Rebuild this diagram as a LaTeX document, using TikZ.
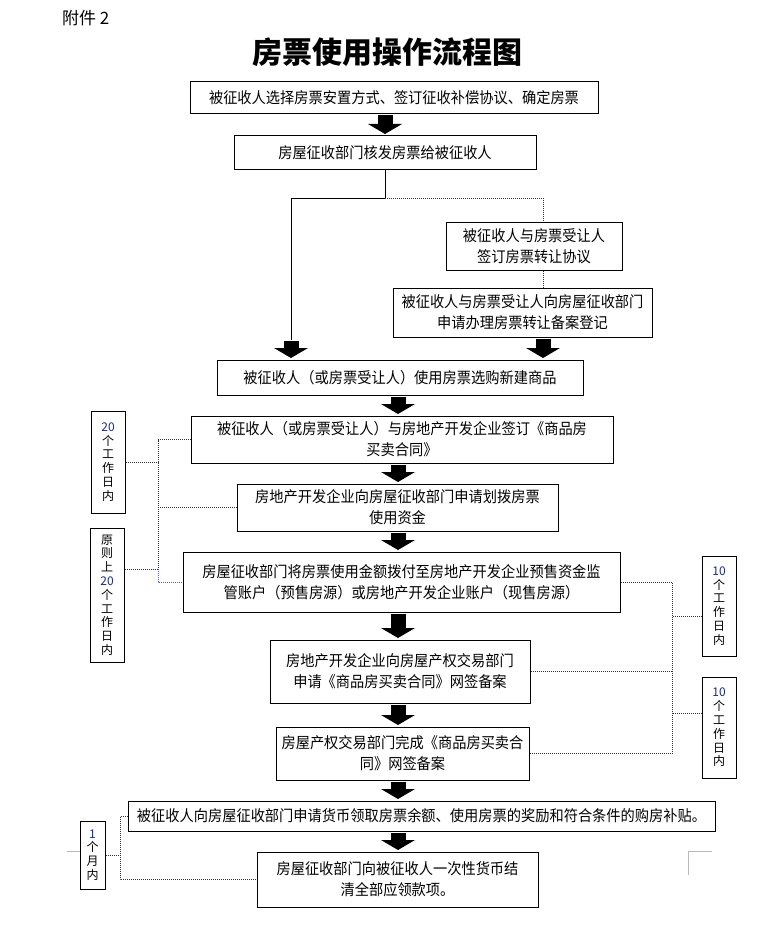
\documentclass[tikz,border=0pt]{standalone}
\usepackage{fontspec}
\setmainfont{Noto Sans CJK SC}
\newfontfamily\boxfont{Noto Sans CJK SC}[FakeStretch=0.93]
\usetikzlibrary{arrows.meta,calc}
\definecolor{numblue}{RGB}{25,45,130}
\definecolor{dotblue}{RGB}{70,100,200}
\begin{document}
\begin{tikzpicture}[x=1pt,y=-1pt,
  box/.style={draw,line width=1pt,inner sep=0pt,align=center,font=\boxfont\fontsize{15.3}{21}\selectfont},
  tag/.style={draw,line width=1pt,inner sep=0pt,align=center,font=\fontsize{12}{13.8}\selectfont},
  fat/.style={line width=15pt,-{Triangle[length=10pt,width=34pt,line width=0pt]},shorten <=1pt,shorten >=1.5pt},
  dot/.style={line width=1pt,dash pattern=on 1pt off 1pt,black!80},
  conn/.style={line width=1pt}]
\useasboundingbox (0,0) rectangle (768,928);

% titles
\node[anchor=west,inner sep=0pt,font=\fontsize{17}{17}\selectfont] (att) at (62,18) {附件 2};
\node[inner sep=0pt,font=\fontsize{30}{30}\selectfont\bfseries] (ttl) at (387,52) {房票使用操作流程图};

% main boxes
\node[box,minimum width=408pt,minimum height=32pt] (b1) at (394,98) {被征收人选择房票安置方式、签订征收补偿协议、确定房票};
\node[box,minimum width=302pt,minimum height=34pt] (b2) at (385,153) {房屋征收部门核发房票给被征收人};
\node[box,minimum width=176pt,minimum height=48pt] (b3) at (534,246) {被征收人与房票受让人\\签订房票转让协议};
\node[box,minimum width=259pt,minimum height=49pt] (b4) at (522.5,312.5) {被征收人与房票受让人向房屋征收部门\\申请办理房票转让备案登记};
\node[box,minimum width=366pt,minimum height=35pt] (b5) at (400,377.5) {被征收人（或房票受让人）使用房票选购新建商品};
\node[box,minimum width=422pt,minimum height=47pt] (b6) at (402,439.5) {被征收人（或房票受让人）与房地产开发企业签订《商品房\\买卖合同》};
\node[box,minimum width=321pt,minimum height=47pt] (b7) at (397.5,507.5) {房地产开发企业向房屋征收部门申请划拨房票\\使用资金};
\node[box,minimum width=437pt,minimum height=60pt] (b8) at (401.5,582) {房屋征收部门将房票使用金额拨付至房地产开发企业预售资金监\\管账户（预售房源）或房地产开发企业账户（现售房源）};
\node[box,minimum width=260pt,minimum height=63pt] (b9) at (400,671.5) {房地产开发企业向房屋产权交易部门\\申请《商品房买卖合同》网签备案};
\node[box,minimum width=253pt,minimum height=53pt] (b10) at (402.5,753.5) {房屋产权交易部门完成《商品房买卖合\\同》网签备案};
\node[box,minimum width=587pt,minimum height=30pt] (b11) at (421.5,816) {被征收人向房屋征收部门申请货币领取房票余额、使用房票的奖励和符合条件的购房补贴。};
\node[box,minimum width=281pt,minimum height=55pt] (b12) at (397.5,879.5) {房屋征收部门向被征收人一次性货币结\\清全部应领款项。};

% side tags
\node[tag,minimum width=34pt,minimum height=102pt] (l1) at (108,462) {\textcolor{numblue}{20}\\个\\工\\作\\日\\内};
\node[tag,minimum width=34pt,minimum height=134pt] (l2) at (107,595) {原\\则\\上\\\textcolor{numblue}{20}\\个\\工\\作\\日\\内};
\node[tag,minimum width=34pt,minimum height=100pt] (r1) at (719,606) {\textcolor{numblue}{10}\\个\\工\\作\\日\\内};
\node[tag,minimum width=34pt,minimum height=101pt] (r2) at (719,727.5) {\textcolor{numblue}{10}\\个\\工\\作\\日\\内};
\node[tag,minimum width=25pt,minimum height=68pt] (l3) at (92.5,855) {\textcolor{numblue}{1}\\个\\月\\内};

% helper coordinates
\coordinate (ax1) at (385,0);
\coordinate (ax) at (398,0);
\coordinate (j) at (385,198);
\coordinate (c1) at (291,340);
\coordinate (c3) at (543,0);
\coordinate (vl) at (158,0);
\coordinate (vr) at (672,0);
\coordinate (vb) at (120,0);
\coordinate (l2c) at ([yshift=26pt]l2.east);
\coordinate (r1c) at ([yshift=-10pt]r1.west);
\coordinate (r2c) at ([yshift=14.5pt]r2.west);

% top branch
\draw[conn] (b2.south) -- (j) -- (j -| c1) -- (c1);
\draw[dot] (j) -- (j -| c3) -- (c3 |- b3.north);
\draw[dot] (b3.south -| c3) -- (b4.north -| c3);

% fat arrows
\draw[fat] (b1.south -| ax1) -- (b2.north -| ax1);
\draw[fat] (c1) -- (c1 |- b5.north);
\draw[fat] (b4.south -| c3) -- (b5.north -| c3);
\draw[fat] (b5.south -| ax) -- (b6.north -| ax);
\draw[fat] (b6.south -| ax) -- (b7.north -| ax);
\draw[fat] (b7.south -| ax) -- (b8.north -| ax);
\draw[fat] (b8.south -| ax) -- (b9.north -| ax);
\draw[fat] (b9.south -| ax) -- (b10.north -| ax);
\draw[fat] (b10.south -| ax) -- (b11.north -| ax);
\draw[fat] (b11.south -| ax) -- (b12.north -| ax);

% left brackets
\draw[dot] (b6.west) -- (b6.west -| vl) -- (vl |- l2c);
\draw[dot,dotblue] (vl |- l2c) -- (vl |- b8.west) -- (b8.west);
\draw[dot] (l1.east) -- (l1.east -| vl);
\draw[dot] (b7.west) -- (b7.west -| vl);
\draw[dot] (l2c) -- (l2c -| vl);

% right brackets
\draw[dot] (b8.east) -- (b8.east -| vr) -- (vr |- b10.east) -- (b10.east);
\draw[dot] (b9.east) -- (b9.east -| vr);
\draw[dot] (r1c) -- (r1c -| vr);
\draw[dot] (r2c) -- (r2c -| vr);

% bottom bracket
\draw[dot] (b11.west) -- (b11.west -| vb) -- (vb |- b12.west) -- (b12.west);
\draw[dot] (l3.east) -- (l3.east -| vb);

% page corner marks
\draw[gray!55,line width=1pt] (67,851) -- (l3.west |- 0,851);
\draw[gray!55,line width=1pt] (712,851) -- (688,851) -- (688,875);
\end{tikzpicture}
\end{document}
